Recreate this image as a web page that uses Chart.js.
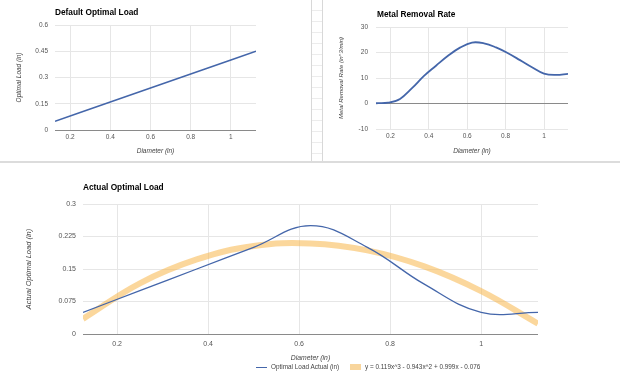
<!DOCTYPE html>
<html>
<head>
<meta charset="utf-8">
<script src="https://cdn.jsdelivr.net/npm/chart.js@4.4.1/dist/chart.umd.min.js"></script>
<style>
  body { margin: 0; background: #fff; }
  #page { position: relative; width: 620px; height: 374px; overflow: hidden; font-family: 'Liberation Sans', Arial, sans-serif; }
  .box { position: absolute; }
  .title { position: absolute; font-weight: bold; font-size: 8.3px; line-height: 10px; color: #000; white-space: nowrap; }
  #hline { position: absolute; left: 0; top: 161px; width: 620px; height: 2px; background: #dcdcdc; }
  #strip { position: absolute; left: 311px; top: 0; width: 10px; height: 161px; border-left: 1px solid #d8d8d8; border-right: 1px solid #d8d8d8;
           background: repeating-linear-gradient(to bottom, #fff 0px, #fff 10px, #ececec 10px, #ececec 11px); }
  #legend { position: absolute; left: 256px; top: 363px; font-size: 6.4px; line-height: 8px; color: #444; white-space: nowrap; }
  #legend span { display: inline-block; vertical-align: middle; }
  .swLine { width: 11px; height: 1.5px; background: #4466aa; margin-right: 4px; }
  .swBox { width: 11px; height: 6px; background: #f8d59c; margin-left: 9px; margin-right: 4px; }
</style>
</head>
<body>
<div id="page">
  <div id="strip"></div>
  <div id="hline"></div>

  <div class="box" style="left:0;top:0;width:310px;height:160px;"><canvas id="defaultLoadChart"></canvas></div>
  <div class="box" style="left:310px;top:0;width:310px;height:160px;"><canvas id="removalRateChart"></canvas></div>
  <div class="box" style="left:0;top:164px;width:620px;height:210px;"><canvas id="actualLoadChart"></canvas></div>

  <div class="title" style="left:55px;top:7px;">Default Optimal Load</div>
  <div class="title" style="left:377px;top:9px;">Metal Removal Rate</div>
  <div class="title" style="left:83px;top:182px;">Actual Optimal Load</div>

  <div id="legend">
    <span class="swLine"></span><span>Optimal Load Actual (in)</span>
    <span class="swBox"></span><span>y = 0.119x^3 - 0.943x^2 + 0.999x - 0.076</span>
  </div>
</div>

<script>
// diameters (in)
const diameters = [0.125, 0.25, 0.375, 0.5, 0.625, 0.75, 0.875, 1.0, 1.125];
const defaultLoad = [0.05, 0.1, 0.15, 0.2, 0.25, 0.3, 0.35, 0.4, 0.45];
const actualLoad = [0.05, 0.1, 0.15, 0.2, 0.25, 0.2, 0.115, 0.05, 0.05];
const trendLoad = [0.035, 0.117, 0.172, 0.203, 0.209, 0.193, 0.156, 0.099, 0.024];

// metal removal rate is sampled finer
const rateDiameters = [0.125, 0.1875, 0.25, 0.3125, 0.375, 0.4375, 0.5, 0.5625, 0.625, 0.6875, 0.75, 0.8125, 0.875, 0.9375, 1.0, 1.0625, 1.125];
const removalRate = [0.1, 0.3, 1.8, 6, 10.8, 14.8, 18.7, 21.9, 23.9, 23.6, 22, 19.7, 17, 14.2, 11.7, 11.2, 11.6];

// tick values
const xTicks = [0.2, 0.4, 0.6, 0.8, 1];
const defaultTicks = [0, 0.15, 0.3, 0.45, 0.6];
const rateTicks = [-10, 0, 10, 20, 30];
const actualTicks = [0, 0.075, 0.15, 0.225, 0.3];

const FONT = 'Liberation Sans';
const BLUE = '#4466aa';
const TREND = 'rgba(247, 182, 74, 0.55)';

function points(xs, ys) {
    return xs.map((x, i) => ({ x: x, y: ys[i] }));
}

function fmt(v) {
    return String(parseFloat(Number(v).toFixed(3)));
}

function gridColor(ctx) {
    return ctx.tick && ctx.tick.value === 0 ? '#8a8a8a' : '#e6e6e6';
}

// builds a pair of axes with fixed box sizes so the plot area lands where it should
function axes(o) {
    return {
        x: {
            type: 'linear',
            min: 0.125,
            max: 1.125,
            afterBuildTicks: s => { s.ticks = xTicks.map(v => ({ value: v })); },
            afterFit: s => { s.height = o.xHeight; },
            grid: { color: '#e6e6e6', drawTicks: false },
            border: { display: false },
            ticks: { padding: o.xPad, color: '#555', font: { family: FONT, size: o.tickSize }, callback: fmt, maxRotation: 0 },
            title: { display: true, text: 'Diameter (in)', color: '#444',
                     font: { family: FONT, size: o.xTitleSize, style: 'italic' }, padding: { top: 0, bottom: o.xTitlePad } }
        },
        y: {
            min: o.yTicks[0],
            max: o.yTicks[o.yTicks.length - 1],
            afterBuildTicks: s => { s.ticks = o.yTicks.map(v => ({ value: v })); },
            afterFit: s => { s.width = o.yWidth; },
            grid: { color: gridColor, drawTicks: false },
            border: { display: false },
            ticks: { padding: o.yPad, color: '#555', font: { family: FONT, size: o.tickSize }, callback: fmt },
            title: { display: true, text: o.yTitle, color: '#444',
                     font: { family: FONT, size: o.yTitleSize, style: 'italic' }, padding: { top: o.yTitlePad, bottom: 0 } }
        }
    };
}

function baseOptions(padding, scales) {
    return {
        responsive: true,
        maintainAspectRatio: false,
        animation: false,
        layout: { padding: padding },
        plugins: { legend: { display: false }, tooltip: { enabled: false } },
        elements: { point: { radius: 0 } },
        scales: scales
    };
}

function initDefaultLoadChart() {
    const ctx = document.getElementById('defaultLoadChart').getContext('2d');
    new Chart(ctx, {
        type: 'line',
        data: {
            datasets: [{
                label: 'Optimal Load (in)',
                data: points(diameters, defaultLoad),
                borderColor: BLUE,
                borderWidth: 1.5,
                tension: 0
            }]
        },
        options: baseOptions({ top: 25, right: 54, bottom: 0, left: 0 }, axes({
            yTicks: defaultTicks, yTitle: 'Optimal Load (in)',
            xHeight: 30, yWidth: 55, tickSize: 6.5, xTitleSize: 6.5, yTitleSize: 6.5,
            xPad: 3, yPad: 7, xTitlePad: 5, yTitlePad: 15
        }))
    });
}

function initRemovalRateChart() {
    const ctx = document.getElementById('removalRateChart').getContext('2d');
    new Chart(ctx, {
        type: 'line',
        data: {
            datasets: [{
                label: 'Metal Removal Rate',
                data: points(rateDiameters, removalRate),
                borderColor: BLUE,
                borderWidth: 1.8,
                tension: 0.4
            }]
        },
        options: baseOptions({ top: 27, right: 52, bottom: 0, left: 0 }, axes({
            yTicks: rateTicks, yTitle: 'Metal Removal Rate (in^3/min)',
            xHeight: 31, yWidth: 66, tickSize: 6.5, xTitleSize: 6.5, yTitleSize: 6,
            xPad: 3, yPad: 8, xTitlePad: 5, yTitlePad: 28
        }))
    });
}

function initActualLoadChart() {
    const ctx = document.getElementById('actualLoadChart').getContext('2d');
    new Chart(ctx, {
        type: 'line',
        data: {
            datasets: [{
                label: 'Optimal Load Actual (in)',
                data: points(diameters, actualLoad),
                borderColor: BLUE,
                borderWidth: 1.3,
                tension: 0.4
            }, {
                label: 'y = 0.119x^3 - 0.943x^2 + 0.999x - 0.076',
                data: points(diameters, trendLoad),
                borderColor: TREND,
                borderWidth: 6,
                tension: 0.4
            }]
        },
        options: baseOptions({ top: 40, right: 82, bottom: 0, left: 0 }, axes({
            yTicks: actualTicks, yTitle: 'Actual Optimal Load (in)',
            xHeight: 40, yWidth: 83, tickSize: 7, xTitleSize: 6.8, yTitleSize: 7.5,
            xPad: 6, yPad: 7, xTitlePad: 12, yTitlePad: 24
        }))
    });
}

initDefaultLoadChart();
initRemovalRateChart();
initActualLoadChart();
</script>
</body>
</html>
